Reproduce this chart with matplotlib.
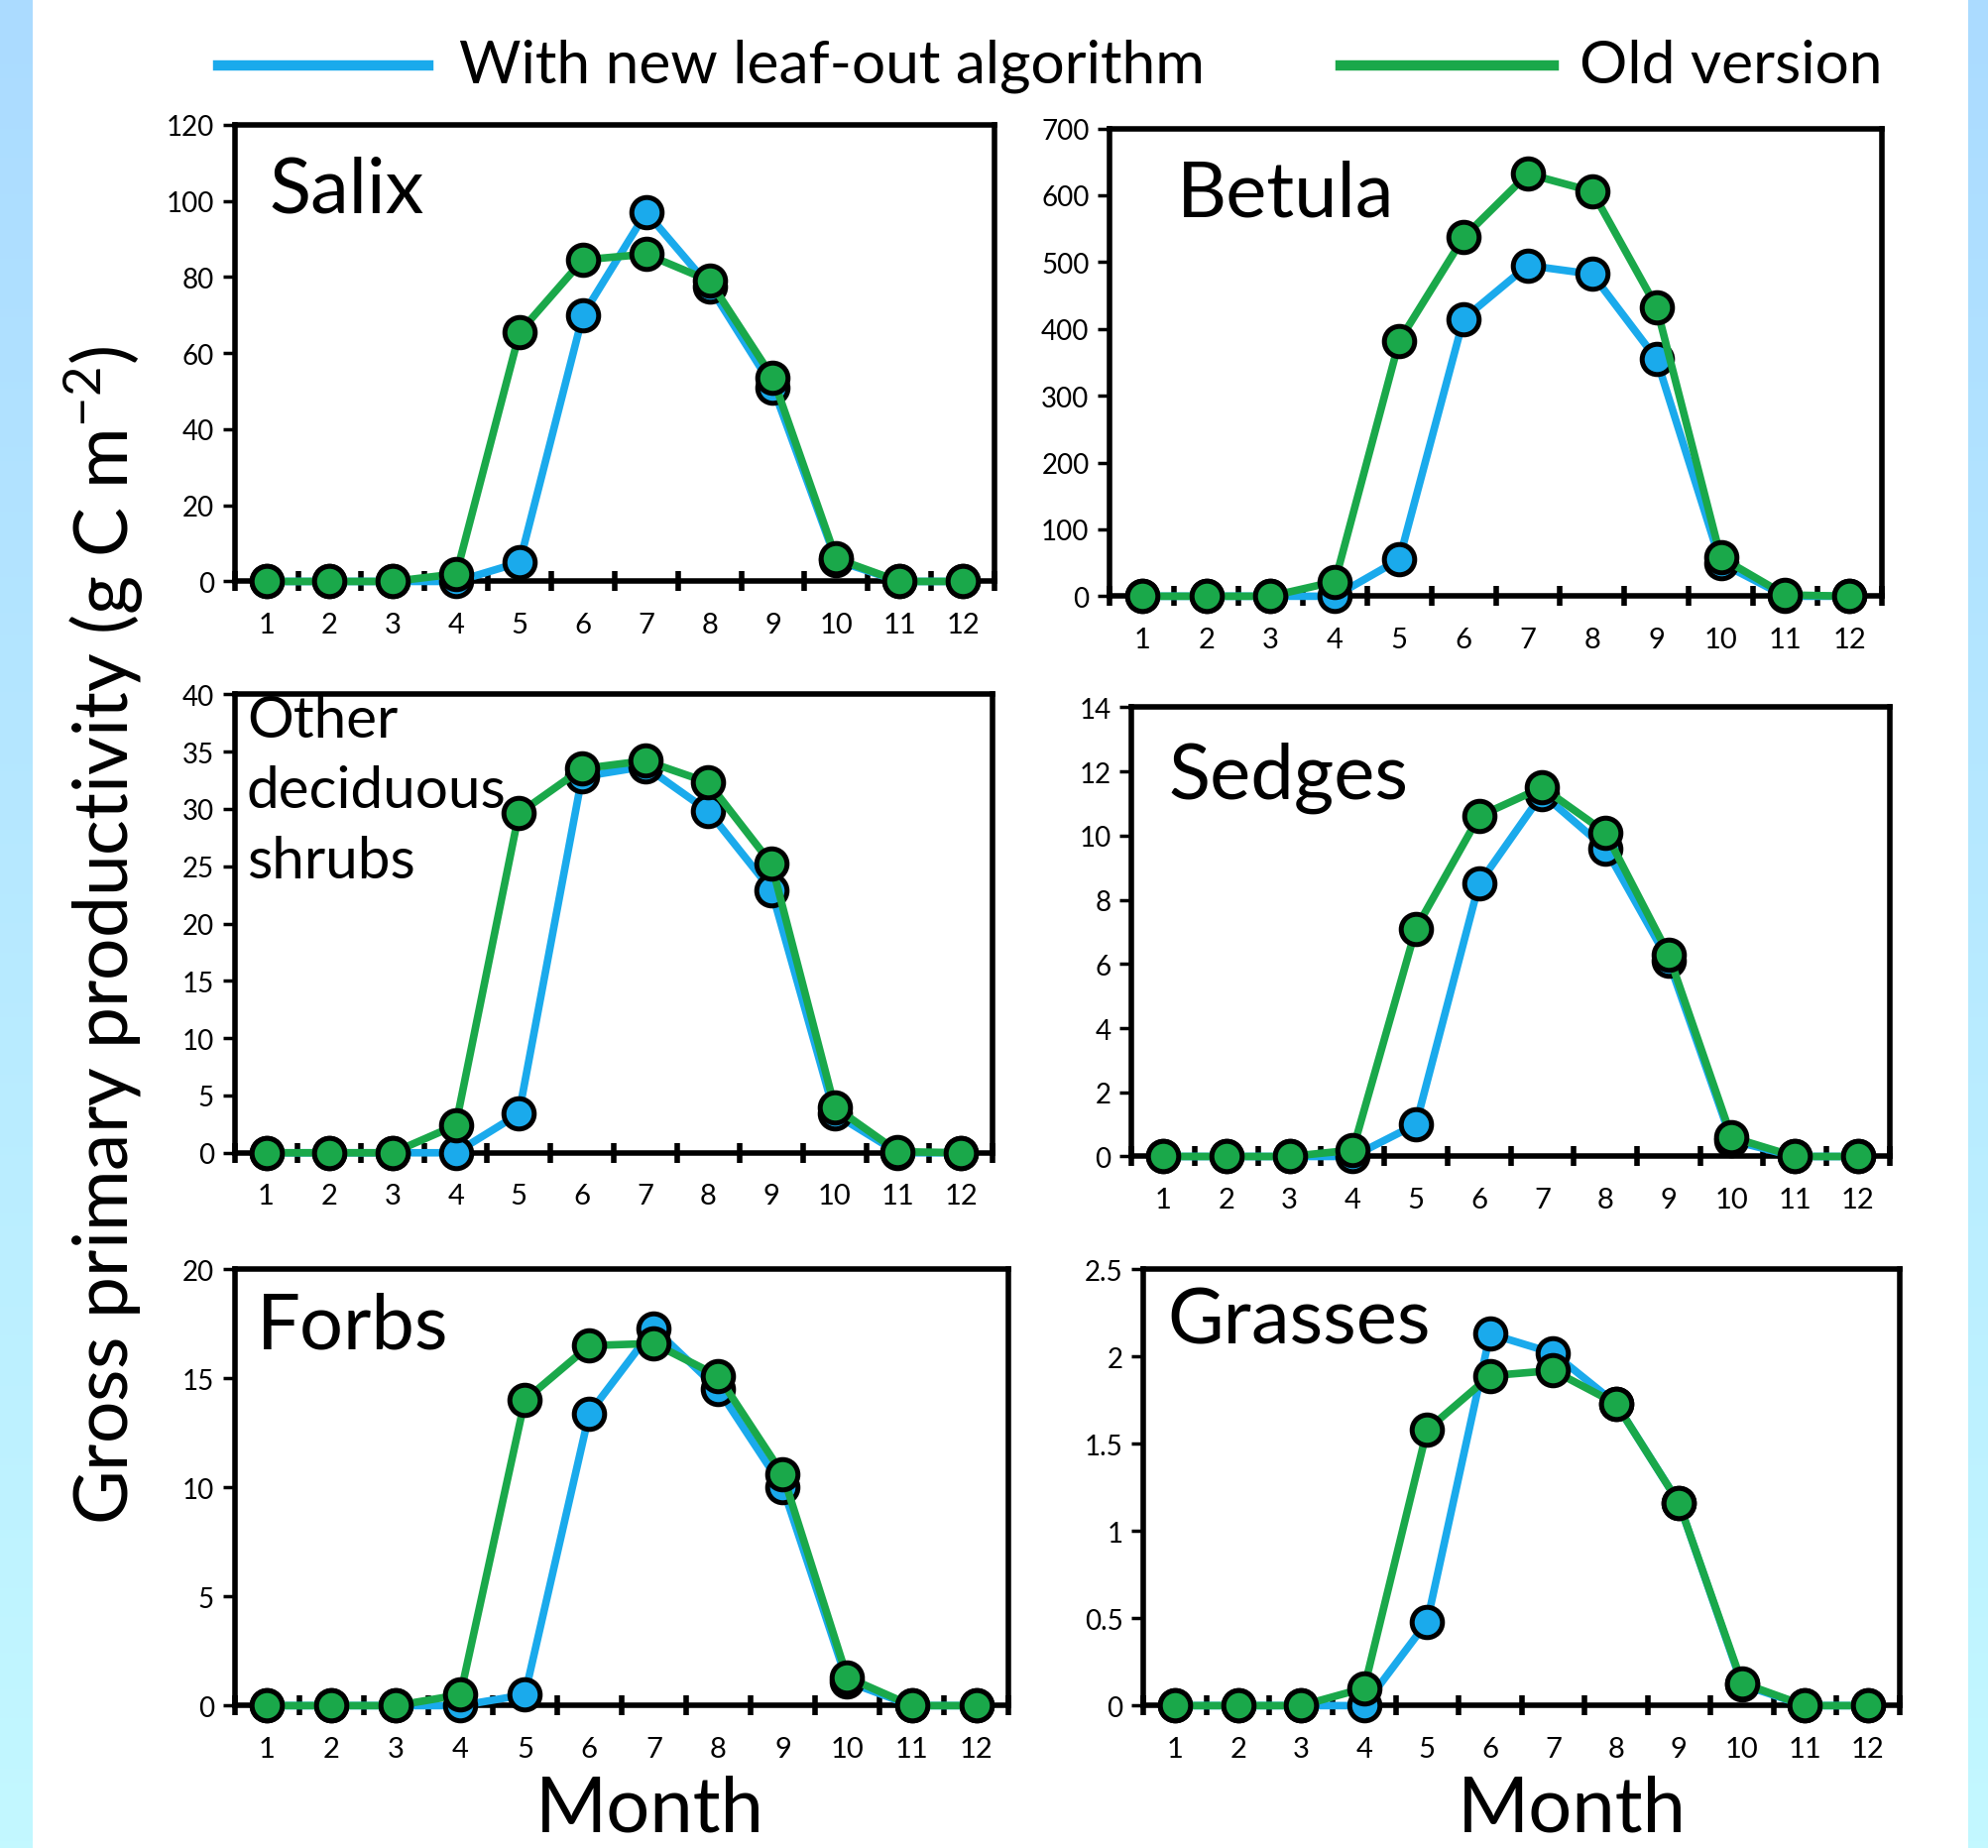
import numpy as np
import matplotlib

matplotlib.use("Agg")
import matplotlib.pyplot as plt
from matplotlib.lines import Line2D

plt.rcParams["font.family"] = ["Lato", "DejaVu Sans"]
plt.rcParams["mathtext.fontset"] = "custom"
plt.rcParams["mathtext.rm"] = "Lato"

BLUE = "#1AAAEC"
GREEN = "#1AA84A"
W, H = 2006, 1865

months = list(range(1, 13))

salix_new = [0, 0, 0, 0, 5, 70, 97, 77.5, 51, 5.5, 0, 0]
salix_old = [0, 0, 0, 2, 65.5, 84.5, 86, 79, 53.5, 6, 0, 0]
betula_new = [0, 0, 0, 0, 55, 415, 495, 482, 355, 50, 0, 0]
betula_old = [0, 0, 0, 22, 382, 537, 632, 606, 433, 58, 2, 0]
other_new = [0, 0, 0, 0, 3.4, 32.8, 33.7, 29.8, 22.9, 3.4, 0, 0]
other_old = [0, 0, 0, 2.4, 29.6, 33.5, 34.2, 32.3, 25.2, 4.0, 0.1, 0]
sedges_new = [0, 0, 0, 0, 1.0, 8.5, 11.3, 9.6, 6.1, 0.5, 0, 0]
sedges_old = [0, 0, 0, 0.2, 7.1, 10.6, 11.5, 10.1, 6.3, 0.6, 0, 0]
forbs_new = [0, 0, 0, 0, 0.5, 13.4, 17.3, 14.5, 10.0, 1.1, 0, 0]
forbs_old = [0, 0, 0, 0.5, 14.0, 16.5, 16.6, 15.1, 10.6, 1.3, 0, 0]
grasses_new = [0, 0, 0, 0, 0.48, 2.13, 2.02, 1.73, 1.16, 0.12, 0, 0]
grasses_old = [0, 0, 0, 0.1, 1.58, 1.89, 1.92, 1.73, 1.16, 0.13, 0, 0]

yticks_salix = [0, 20, 40, 60, 80, 100, 120]
yticks_betula = [0, 100, 200, 300, 400, 500, 600, 700]
yticks_other = [0, 5, 10, 15, 20, 25, 30, 35, 40]
yticks_sedges = [0, 2, 4, 6, 8, 10, 12, 14]
yticks_forbs = [0, 5, 10, 15, 20]
yticks_grasses = [0, 0.5, 1, 1.5, 2, 2.5]
ylabels_grasses = ["0", "0.5", "1", "1.5", "2", "2.5"]

fig = plt.figure(figsize=(W / 100, H / 100), dpi=100)

# light blue side strips (vertical gradient)
bg = fig.add_axes([0, 0, 1, 1], zorder=-10)
bg.axis("off")
top = np.array([0xAB, 0xDB, 0xFF]) / 255
bot = np.array([0xC3, 0xF8, 0xFF]) / 255
grad = np.linspace(0, 1, 256)[:, None, None]
img = top * (1 - grad) + bot * grad
bg.imshow(img, extent=[0, 33, H, 0], aspect="auto")
bg.imshow(img, extent=[1985, W, H, 0], aspect="auto")
bg.set_xlim(0, W)
bg.set_ylim(H, 0)

panels = [
    # rect, new, old, yticks, ylabels, title, title pos, title size
    ([0.118, 0.685, 0.382, 0.247], salix_new, salix_old, yticks_salix, None,
     "Salix", (0.046, 0.857), 56),
    ([0.558, 0.677, 0.388, 0.253], betula_new, betula_old, yticks_betula, None,
     "Betula", (0.087, 0.86), 56),
    ([0.118, 0.376, 0.381, 0.248], other_new, other_old, yticks_other, None,
     "Other\ndeciduous\nshrubs", (0.016, 1.0), 42),
    ([0.569, 0.374, 0.381, 0.243], sedges_new, sedges_old, yticks_sedges, None,
     "Sedges", (0.048, 0.845), 56),
    ([0.118, 0.077, 0.389, 0.236], forbs_new, forbs_old, yticks_forbs, None,
     "Forbs", (0.029, 0.868), 56),
    ([0.575, 0.077, 0.380, 0.236], grasses_new, grasses_old, yticks_grasses,
     ylabels_grasses, "Grasses", (0.031, 0.88), 56),
]

for rect, new, old, yt, yl, title, tpos, tsize in panels:
    ax = fig.add_axes(rect)
    ax.plot(months, new, color=BLUE, lw=5.5, marker="o", ms=22,
            mfc=BLUE, mec="black", mew=3.6, clip_on=False, zorder=3)
    ax.plot(months, old, color=GREEN, lw=5.5, marker="o", ms=22,
            mfc=GREEN, mec="black", mew=3.6, clip_on=False, zorder=4)
    ax.set_xlim(0.5, 12.5)
    ax.set_ylim(yt[0], yt[-1])
    ax.set_yticks(yt)
    if yl is not None:
        ax.set_yticklabels(yl)
    ax.set_xticks(months)
    ax.set_xticks(np.arange(0.5, 13, 1), minor=True)
    ax.tick_params(axis="x", which="major", length=0, pad=22, labelsize=21)
    ax.tick_params(axis="x", which="minor", length=14, width=4,
                   direction="inout")
    ax.tick_params(axis="y", length=9, width=2.5, direction="out",
                   labelsize=20, pad=6)
    for s in ax.spines.values():
        s.set_linewidth(4)
    if "\n" in title:
        ax.text(tpos[0], tpos[1], title, transform=ax.transAxes,
                fontsize=tsize, ha="left", va="top", linespacing=1.42)
    else:
        ax.text(tpos[0], tpos[1], title, transform=ax.transAxes,
                fontsize=tsize, ha="left", va="center")

# x labels
fig.text(655 / W, 1 - 1826 / H, "Month", fontsize=56, ha="center",
         va="center")
fig.text(1585 / W, 1 - 1826 / H, "Month", fontsize=56, ha="center",
         va="center")

# y label
fig.text(105 / W, 1 - 943 / H,
         r"Gross primary productivity (g C m$\mathregular{^{-2}}$)",
         fontsize=54, rotation=90, ha="center", va="center")

# legend (placed by hand)
ly = 1 - 67 / H
fig.add_artist(Line2D([220 / W, 432 / W], [ly, ly], color=BLUE, lw=7.5))
fig.text(463 / W, ly, "With new leaf-out algorithm", fontsize=43.5,
         ha="left", va="center")
fig.add_artist(Line2D([1352 / W, 1567 / W], [ly, ly], color=GREEN, lw=7.5))
fig.text(1593 / W, ly, "Old version", fontsize=43.5, ha="left", va="center")

fig.savefig("out.png", dpi=100, facecolor="white")
